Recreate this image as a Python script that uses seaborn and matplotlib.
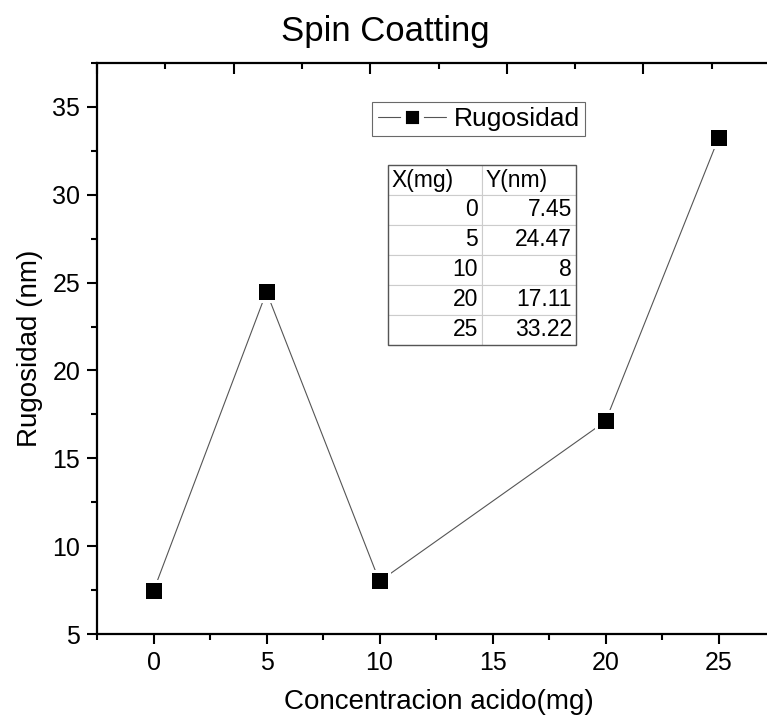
import matplotlib
matplotlib.use("Agg")
import matplotlib.pyplot as plt
import seaborn as sns
import pandas as pd
from matplotlib.ticker import MultipleLocator
from matplotlib.lines import Line2D
import matplotlib.patches as mpatches

x_mg = [0, 5, 10, 20, 25]
y_nm = [7.45, 24.47, 8, 17.11, 33.22]
table_x = ["0", "5", "10", "20", "25"]
table_y = ["7.45", "24.47", "8", "17.11", "33.22"]
x_ticks = [0, 5, 10, 15, 20, 25]
y_ticks = [5, 10, 15, 20, 25, 30, 35]

df = pd.DataFrame({"x": x_mg, "y": y_nm})

sns.set_theme(style="white")
plt.rcParams["font.family"] = ["Liberation Sans", "DejaVu Sans"]
plt.rcParams["text.color"] = "black"
plt.rcParams["axes.labelcolor"] = "black"
plt.rcParams["xtick.color"] = "black"
plt.rcParams["ytick.color"] = "black"

fig = plt.figure(figsize=(7.67, 7.21), dpi=100)
L, R, B, T = 97 / 767, 780 / 767, (721 - 634) / 721, (721 - 63) / 721
ax = fig.add_axes([L, B, R - L, T - B])

sns.lineplot(data=df, x="x", y="y", ax=ax, color="#555555", linewidth=0.8, zorder=2)
# white halo so the line stops short of the markers
sns.scatterplot(data=df, x="x", y="y", ax=ax, marker="s", s=260, color="white",
                edgecolor="white", linewidth=0, zorder=3)
sns.scatterplot(data=df, x="x", y="y", ax=ax, marker="s", s=120, color="black",
                edgecolor="black", linewidth=0, zorder=4)

ax.set_xlim(-2.5, -2.5 + 683 / 22.6)
ax.set_ylim(5, 37.5)
ax.set_xticks(x_ticks)
ax.set_yticks(y_ticks)
ax.xaxis.set_minor_locator(MultipleLocator(2.5))
ax.yaxis.set_minor_locator(MultipleLocator(2.5))
ax.tick_params(axis="both", which="major", direction="out", length=7, width=1.5,
               labelsize=18, colors="black", pad=5)
ax.tick_params(axis="both", which="minor", direction="out", length=4, width=1.5)
ax.tick_params(bottom=True, left=True, which="both")
for s in ax.spines.values():
    s.set_linewidth(1.6)
    s.set_color("black")

ax.set_xlabel("Concentracion acido(mg)", fontsize=20, labelpad=10)
ax.set_ylabel("Rugosidad (nm)", fontsize=20, labelpad=7)
ax.set_title("Spin Coatting", fontsize=25, pad=16, x=(385 - 97) / 683)

# top axis ticks (inward, no labels)
top = ax.twiny()
top.set_xlim(0, 5)
top.xaxis.set_major_locator(MultipleLocator(1))
top.xaxis.set_minor_locator(MultipleLocator(0.5))
top.tick_params(axis="x", which="major", direction="in", length=8, width=1.5, labeltop=False)
top.tick_params(axis="x", which="minor", direction="in", length=4, width=1.5)
top.tick_params(axis="y", which="both", left=False, right=False, labelleft=False, labelright=False)
for s in top.spines.values():
    s.set_visible(False)

# legend
h = Line2D([0], [0], color="#555555", lw=0.8, marker="s", markersize=13,
           markerfacecolor="black", markeredgecolor="white", markeredgewidth=3.5)
leg = ax.legend([h], ["Rugosidad"], loc="upper left", bbox_to_anchor=(0.403, 0.932),
                fontsize=19, frameon=True, fancybox=False, edgecolor="#444444",
                borderpad=0.2, handlelength=2.6, handletextpad=0.3, borderaxespad=0)
leg.get_frame().set_linewidth(0.8)

# data table
tx, ty, tw, th = (388 - 97) / 683, (634 - 345) / 571, (576 - 388) / 683, 180 / 571
cells = [["X(mg)", "Y(nm)"]] + [[a, b] for a, b in zip(table_x, table_y)]
tb = ax.table(cellText=cells, bbox=[tx, ty, tw, th], zorder=5)
tb.auto_set_font_size(False)
for (r, c), cell in tb.get_celld().items():
    cell.set_edgecolor("#cccccc")
    cell.set_linewidth(0.8)
    cell.get_text().set_fontsize(16.5)
    cell.get_text().set_color("black")
    if r == 0:
        cell._loc = "left"
        cell.get_text().set_ha("left")
    else:
        cell._loc = "right"
        cell.get_text().set_ha("right")
    cell.PAD = 0.04
ax.add_patch(mpatches.Rectangle((tx, ty), tw, th, transform=ax.transAxes, fill=False,
                                edgecolor="#555555", lw=1.0, zorder=6))

fig.savefig("out.png", dpi=100)
